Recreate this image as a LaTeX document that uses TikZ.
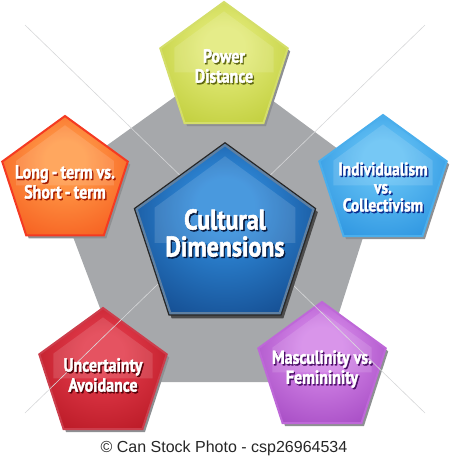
\documentclass[tikz,border=0pt]{standalone}
\usepackage{fontspec}
\usepackage{tikz}
\usetikzlibrary{shapes.geometric,shadows,calc}
\newfontfamily\dimfont{PT Sans}[FakeStretch=0.84, BoldFont={PT Sans Bold},
  BoldFeatures={FakeStretch=0.84, FakeBold=1.8}]
\newfontfamily\notefont{Liberation Sans}
% text with a dark drop behind it
\newcommand\sh[2]{\makebox[0pt][l]{\kern1.3pt\raisebox{-1.5pt}[0pt][0pt]{\textcolor{#1}{#2}}}#2}

\definecolor{hubgrey}{HTML}{A6A8AB}
\definecolor{dropgrey}{HTML}{8E9093}
\definecolor{raygrey}{HTML}{D6D7D9}
\definecolor{pdIn}{HTML}{E2EA78}% power distance
\definecolor{pdOut}{HTML}{B2C222}
\definecolor{pdRim}{HTML}{D4DE6A}
\definecolor{pdDark}{HTML}{5E6612}
\definecolor{icIn}{HTML}{62C0F4}% individualism
\definecolor{icOut}{HTML}{1682D8}
\definecolor{icRim}{HTML}{4AAEEC}
\definecolor{icDark}{HTML}{0B2C8E}
\definecolor{ltIn}{HTML}{FF9A48}% long-term
\definecolor{ltOut}{HTML}{F2440E}
\definecolor{ltRim}{HTML}{F43A22}
\definecolor{ltDark}{HTML}{A41C00}
\definecolor{uaIn}{HTML}{E23A4A}% uncertainty
\definecolor{uaOut}{HTML}{A80C16}
\definecolor{uaRim}{HTML}{CC3E4C}
\definecolor{uaDark}{HTML}{560008}
\definecolor{mfIn}{HTML}{D486E8}% masculinity
\definecolor{mfOut}{HTML}{9232B4}
\definecolor{mfRim}{HTML}{BE68D8}
\definecolor{mfDark}{HTML}{4A0E66}
\definecolor{cdIn}{HTML}{2F8ADA}% cultural dimensions
\definecolor{cdOut}{HTML}{08306E}
\definecolor{cdRim}{HTML}{5F80A2}
\definecolor{cdDark}{HTML}{06183C}

\colorlet{pin}{white}
\colorlet{pout}{black}
\pgfdeclareradialshading[pin,pout]{glow}{\pgfpoint{0bp}{8bp}}{color(0bp)=(pin);
  color(8bp)=(pin); color(44bp)=(pout); color(50bp)=(pout)}

\tikzset{
  pent/.style = {regular polygon, regular polygon sides=5, inner sep=0pt,
    minimum size=#1, line width=2pt, shade, shading=glow,
    drop shadow={shadow xshift=2.5pt, shadow yshift=-3pt, fill=dropgrey,
      opacity=1}},
  pent/.default = 134pt,
  glowcol/.style 2 args = {/utils/exec={\colorlet{pin}{#1}\colorlet{pout}{#2}}},
  lbl/.style = {align=center, inner sep=0pt, text=white,
    font=\dimfont\bfseries\fontsize{19}{20}\selectfont},
  biglbl/.style = {lbl, font=\dimfont\bfseries\fontsize{28.5}{27}\selectfont},
  rayline/.style = {raygrey, line width=0.6pt}
}

\begin{document}
\begin{tikzpicture}[x=1pt,y=-1pt]
\useasboundingbox (0,0) rectangle (450,459);

% grey base pentagon
\fill[hubgrey] (222,63) -- (381,181) -- (317,382) -- (128,382) -- (53,184) -- cycle;

% outer dimensions
\node[pent, glowcol={pdIn}{pdOut}, draw=pdRim] (powerbox) at (224,69) {};
\node[pent, glowcol={icIn}{icOut}, draw=icRim] (indivbox) at (383,182) {};
\node[pent=132pt, glowcol={ltIn}{ltOut}, draw=ltRim] (longbox) at (65,182) {};
\node[pent, glowcol={uaIn}{uaOut}, draw=uaRim] (uncertbox) at (103,375) {};
\node[pent, glowcol={mfIn}{mfOut}, draw=mfRim] (mascbox) at (322,369) {};

% thin rays towards the middle
\coordinate (hub) at (225,219);
\coordinate (nw) at (25,25);
\coordinate (ne) at (425,25);
\coordinate (sw) at (25,413);
\coordinate (se) at (425,413);
\foreach \c in {nw,ne,sw,se}
  \draw[rayline] (\c) -- (hub);

% centre
\node[pent=190pt, glowcol={cdIn}{cdOut}, draw=black!85, line width=1.6pt,
  drop shadow={shadow xshift=2.5pt, shadow yshift=-3.5pt, fill=black!70,
    opacity=1}] (cultbox) at (225,238) {};
\draw[cdRim, line width=2.2pt] ($(cultbox.corner 1)!3pt!(cultbox.center)$)
  -- ($(cultbox.corner 2)!3pt!(cultbox.center)$)
  -- ($(cultbox.corner 3)!3pt!(cultbox.center)$)
  -- ($(cultbox.corner 4)!3pt!(cultbox.center)$)
  -- ($(cultbox.corner 5)!3pt!(cultbox.center)$) -- cycle;

% gloss on every pentagon
\foreach \n/\r in {powerbox/67,indivbox/67,longbox/66,uncertbox/67,mascbox/67,cultbox/95}
  \fill[white, opacity=.13] ($(\n.center)+(0,-0.86*\r)$)
    -- ($(\n.center)+(-0.74*\r,-0.32*\r)$) -- ($(\n.center)+(-0.74*\r,0.05*\r)$)
    -- ($(\n.center)+(0.74*\r,0.05*\r)$) -- ($(\n.center)+(0.74*\r,-0.32*\r)$)
    -- cycle;

% labels
\node[lbl] (power) at ($(powerbox)+(0,-3)$) {\sh{pdDark}{Power}\\\sh{pdDark}{Distance}};
\node[lbl, font=\dimfont\bfseries\fontsize{18.5}{18}\selectfont] (indiv)
  at ($(indivbox)+(0,5)$) {\sh{icDark}{Individualism}\\\sh{icDark}{vs.}\\\sh{icDark}{Collectivism}};
\node[lbl] (long) at (longbox) {\sh{ltDark}{Long\,-\,term vs.}\\\sh{ltDark}{Short\,-\,term}};
\node[lbl] (uncert) at (uncertbox) {\sh{uaDark}{Uncertainty}\\\sh{uaDark}{Avoidance}};
\node[lbl] (masc) at (mascbox) {\sh{mfDark}{Masculinity vs.}\\\sh{mfDark}{Femininity}};
\node[biglbl] (cult) at ($(cultbox)+(0,-5)$) {\sh{cdDark}{Cultural}\\\sh{cdDark}{Dimensions}};

\node[font=\notefont\fontsize{16}{18}\selectfont, text=black!85] (credit)
  at (224,448) {\textcopyright\ Can Stock Photo - csp26964534};
\end{tikzpicture}
\end{document}
